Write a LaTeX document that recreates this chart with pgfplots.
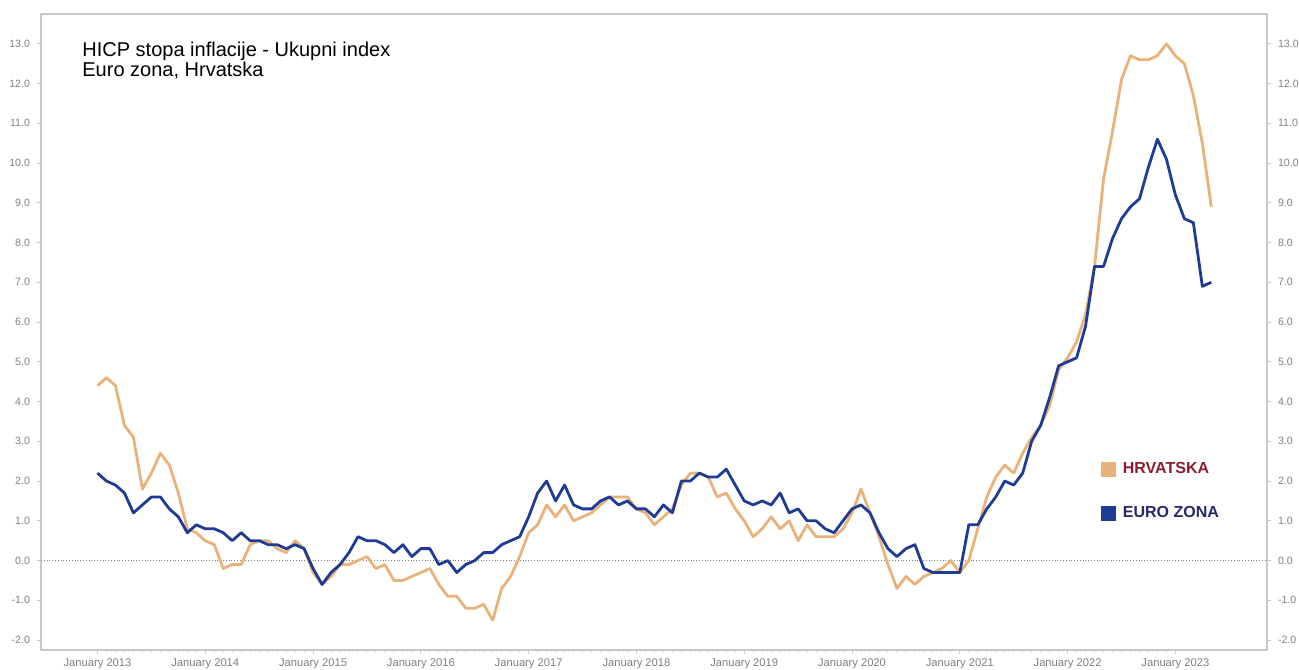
\documentclass[border=0pt]{standalone}
\usepackage{fontspec}
\setmainfont{Liberation Sans}
\usepackage{pgfplots}
\pgfplotsset{compat=1.18}
\usepackage{pgfplotstable}

\definecolor{hrorange}{HTML}{E8B27A}
\definecolor{eablue}{HTML}{1E3C96}
\definecolor{hrtext}{HTML}{8B1E2E}
\definecolor{eatext}{HTML}{25296E}
\definecolor{framegray}{HTML}{C8C8C8}
\definecolor{labelgray}{HTML}{808080}

% k = months since Dec 2012; hr = Hrvatska, ea = Euro zona (HICP, %)
\pgfplotstableread{
k hr ea
0 4.4 2.2
1 4.6 2.0
2 4.4 1.9
3 3.4 1.7
4 3.1 1.2
5 1.8 1.4
6 2.2 1.6
7 2.7 1.6
8 2.4 1.3
9 1.7 1.1
10 0.8 0.7
11 0.7 0.9
12 0.5 0.8
13 0.4 0.8
14 -0.2 0.7
15 -0.1 0.5
16 -0.1 0.7
17 0.4 0.5
18 0.5 0.5
19 0.5 0.4
20 0.3 0.4
21 0.2 0.3
22 0.5 0.4
23 0.3 0.3
24 -0.3 -0.2
25 -0.6 -0.6
26 -0.4 -0.3
27 -0.1 -0.1
28 -0.1 0.2
29 0.0 0.6
30 0.1 0.5
31 -0.2 0.5
32 -0.1 0.4
33 -0.5 0.2
34 -0.5 0.4
35 -0.4 0.1
36 -0.3 0.3
37 -0.2 0.3
38 -0.6 -0.1
39 -0.9 0.0
40 -0.9 -0.3
41 -1.2 -0.1
42 -1.2 0.0
43 -1.1 0.2
44 -1.5 0.2
45 -0.7 0.4
46 -0.4 0.5
47 0.1 0.6
48 0.7 1.1
49 0.9 1.7
50 1.4 2.0
51 1.1 1.5
52 1.4 1.9
53 1.0 1.4
54 1.1 1.3
55 1.2 1.3
56 1.4 1.5
57 1.6 1.6
58 1.6 1.4
59 1.6 1.5
60 1.3 1.3
61 1.2 1.3
62 0.9 1.1
63 1.1 1.4
64 1.3 1.2
65 1.9 2.0
66 2.2 2.0
67 2.2 2.2
68 2.1 2.1
69 1.6 2.1
70 1.7 2.3
71 1.3 1.9
72 1.0 1.5
73 0.6 1.4
74 0.8 1.5
75 1.1 1.4
76 0.8 1.7
77 1.0 1.2
78 0.5 1.3
79 0.9 1.0
80 0.6 1.0
81 0.6 0.8
82 0.6 0.7
83 0.8 1.0
84 1.2 1.3
85 1.8 1.4
86 1.2 1.2
87 0.6 0.7
88 -0.1 0.3
89 -0.7 0.1
90 -0.4 0.3
91 -0.6 0.4
92 -0.4 -0.2
93 -0.3 -0.3
94 -0.2 -0.3
95 0.0 -0.3
96 -0.3 -0.3
97 0.0 0.9
98 0.8 0.9
99 1.6 1.3
100 2.1 1.6
101 2.4 2.0
102 2.2 1.9
103 2.7 2.2
104 3.1 3.0
105 3.4 3.4
106 3.9 4.1
107 4.8 4.9
108 5.1 5.0
109 5.5 5.1
110 6.2 5.9
111 7.4 7.4
112 9.6 7.4
113 10.8 8.1
114 12.1 8.6
115 12.7 8.9
116 12.6 9.1
117 12.6 9.9
118 12.7 10.6
119 13.0 10.1
120 12.7 9.2
121 12.5 8.6
122 11.7 8.5
123 10.5 6.9
124 8.9 7.0
}\hicp

\pgfplotsset{chartbase/.style={
  scale only axis, width=613pt, height=318pt,
  xmin=-6.29, xmax=130.2, ymin=-2.25, ymax=13.75,
  ytick={-2,-1,...,13},
  axis line style={framegray, line width=0.75pt},
  tick style={framegray, line width=0.5pt},
  major tick length=2pt, minor tick length=1pt,
  tick align=outside,
  /pgf/number format/assume math mode=true,
  yticklabel style={font=\fontsize{5.3}{6}\selectfont, text=labelgray,
    /pgf/number format/fixed, /pgf/number format/fixed zerofill,
    /pgf/number format/precision=1},
}}

\begin{document}
\begin{tikzpicture}
\path[use as bounding box] (-20.5pt,-9.5pt) rectangle (629pt,325pt);
\begin{axis}[chartbase,
  ytick pos=left,
  xtick pos=bottom,
  xtick={0,12,...,120},
  xticklabels={January 2013,January 2014,January 2015,January 2016,January 2017,January 2018,January 2019,January 2020,January 2021,January 2022,January 2023},
  minor x tick num=11,
  xticklabel style={font=\fontsize{5.6}{6}\selectfont, text=labelgray, yshift=1pt},
  extra y ticks={0}, extra y tick labels={},
  extra y tick style={grid=major, major grid style={densely dotted, gray, line width=0.4pt}},
  legend style={at={(0.864,0.3)}, anchor=north west, draw=none, fill=none,
    font=\bfseries\fontsize{8}{9.6}\selectfont, row sep=12pt, inner sep=0pt,
    nodes={inner sep=1.5pt},
    /tikz/every odd column/.append style={column sep=2.2pt}},
  legend cell align=left,
]
\addplot[hrorange, line width=1.4pt, line join=round, forget plot] table[x=k, y=hr] {\hicp};
\addplot[eablue, line width=1.4pt, line join=round, forget plot] table[x=k, y=ea] {\hicp};
\addlegendimage{legend image code/.code={\fill[hrorange] (0pt,-3.5pt) rectangle (7pt,3.5pt);}}
\addlegendentry{\textcolor{hrtext}{HRVATSKA}}
\addlegendimage{legend image code/.code={\fill[eablue] (0pt,-3.5pt) rectangle (7pt,3.5pt);}}
\addlegendentry{\textcolor{eatext}{EURO ZONA}}
\end{axis}
\begin{axis}[chartbase,
  hide x axis,
  axis y line*=right,
]
\end{axis}
\node[anchor=base west, font=\fontsize{10}{12}\selectfont, inner sep=0pt] at (20.5pt,296.5pt) {HICP stopa inflacije - Ukupni index};
\node[anchor=base west, font=\fontsize{10}{12}\selectfont, inner sep=0pt] at (20.5pt,286.5pt) {Euro zona, Hrvatska};
\end{tikzpicture}
\end{document}
